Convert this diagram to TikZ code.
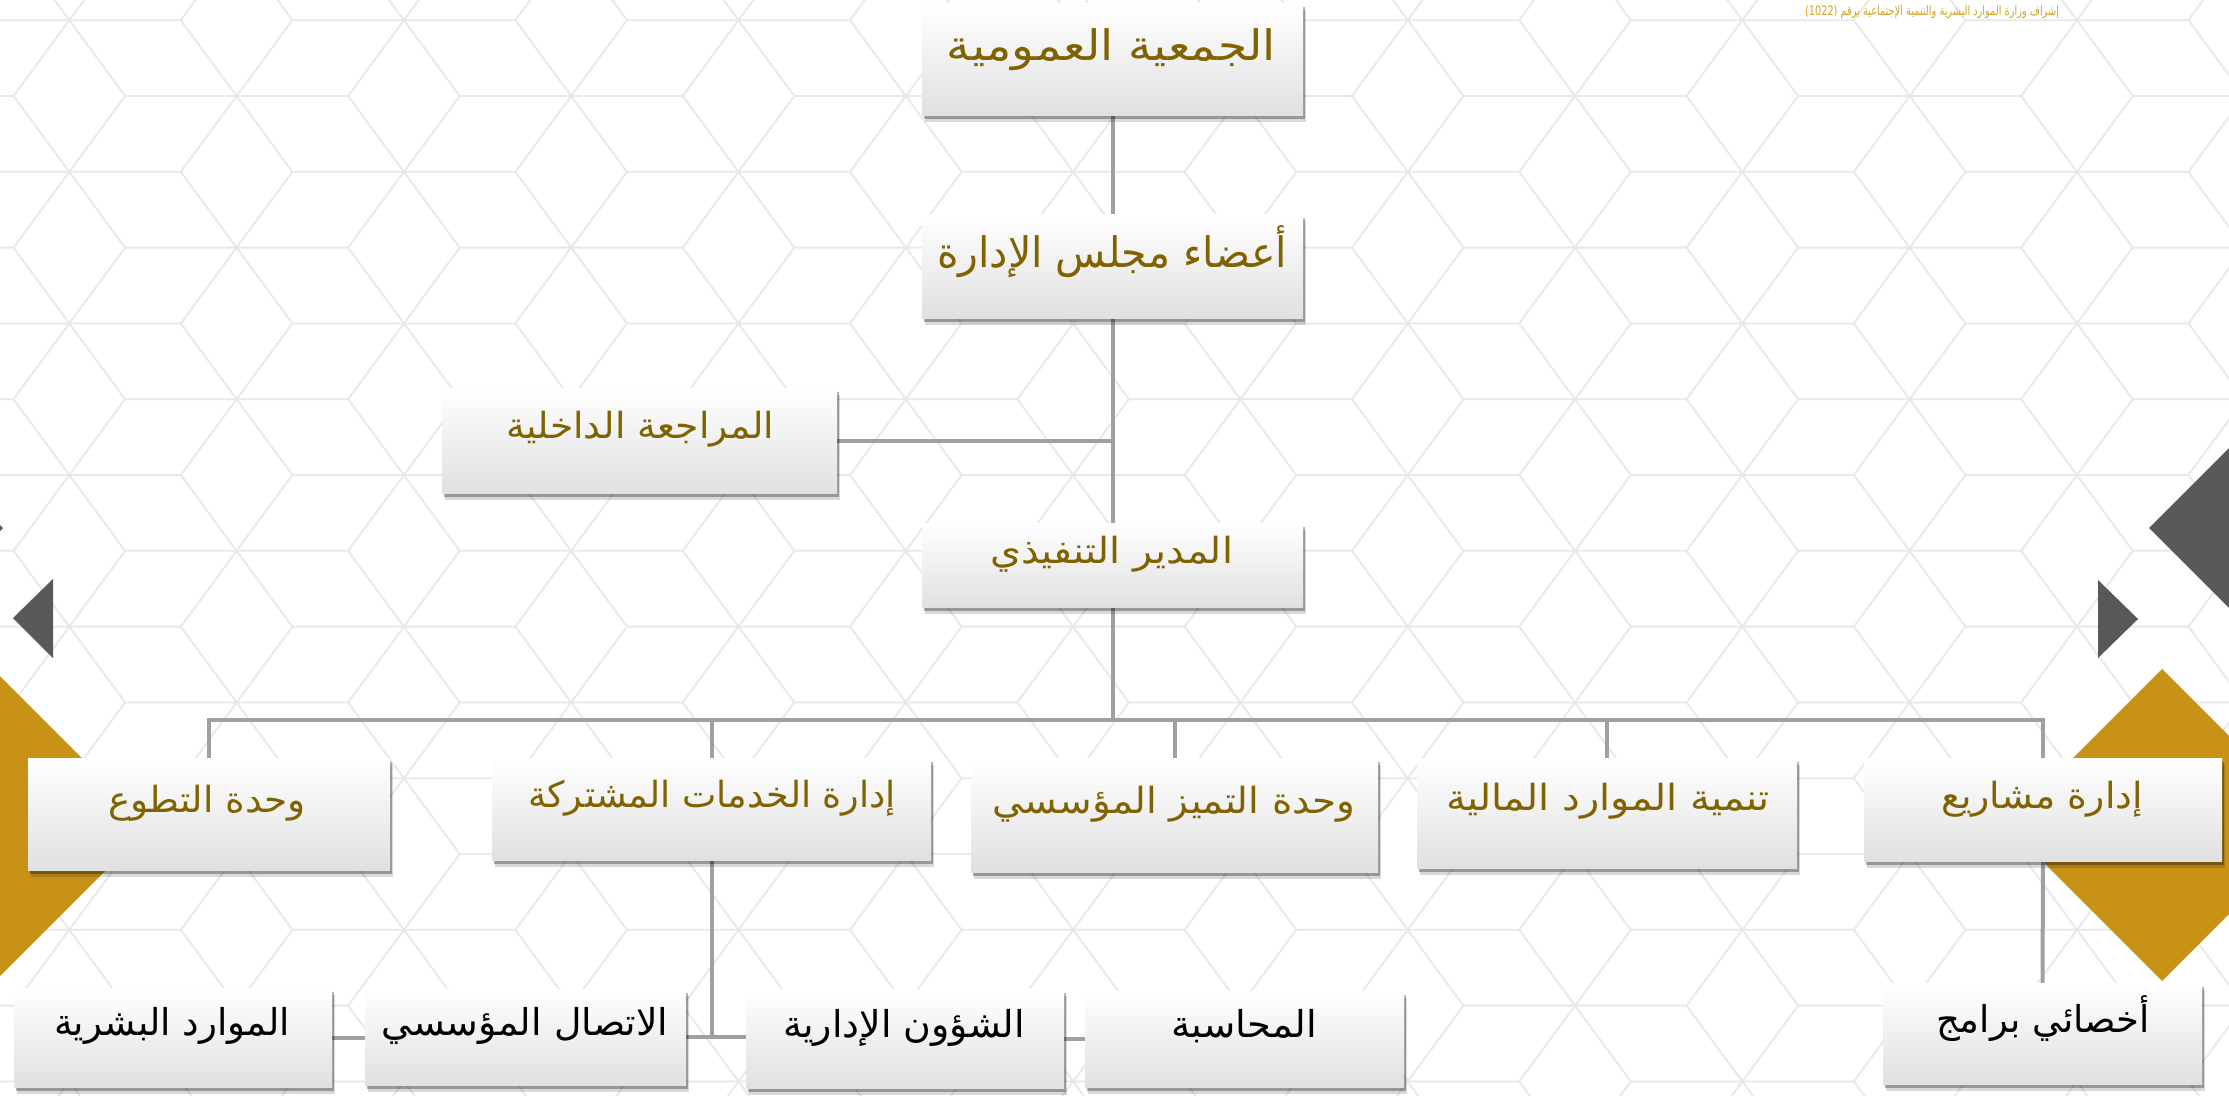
\documentclass[tikz,border=0pt]{standalone}
\usepackage{fontspec}
\usepackage{graphicx}
\newfontfamily\arabicfont[Script=Arabic]{DejaVu Sans}
\TeXXeTstate=1
\usetikzlibrary{shadows,calc}
\pgfdeclarelayer{bglayer}
\pgfdeclarelayer{midlayer}
\pgfsetlayers{bglayer,midlayer,main}
\definecolor{goldtext}{RGB}{128,98,0}
\definecolor{goldfill}{RGB}{200,146,22}
\definecolor{darkgrey}{RGB}{88,88,88}
\definecolor{connc}{RGB}{160,160,160}
\definecolor{hexc}{RGB}{232,232,232}
\definecolor{notec}{RGB}{212,160,34}
\tikzset{
  obox/.style={inner sep=0pt, outer sep=0pt, top color=white, middle color=white, bottom color=black!12,
    drop shadow={shadow xshift=3pt, shadow yshift=-7pt, opacity=0.15, fill=black},
    drop shadow={shadow xshift=2pt, shadow yshift=-4pt, opacity=0.3, fill=black}},
  conn/.style={draw=connc, line width=4pt},
  hexline/.style={draw=hexc, line width=1.8pt},
  ttop/.style={inner sep=0pt, text=goldtext, font=\fontsize{42}{48}\selectfont},
  tmid/.style={inner sep=0pt, text=goldtext, font=\fontsize{36}{42}\selectfont},
  tlow/.style={inner sep=0pt, text=black, font=\fontsize{37}{42}\selectfont},
  tnote/.style={inner sep=0pt, text=notec, font=\fontsize{13}{15}\selectfont}
}
\newcommand\orgbox[5]{%
  \node[obox, minimum width={(#4)-(#2)}, minimum height={(#5)-(#3)}] (#1) at ({((#2)+(#4))/2},{-((#3)+(#5))/2}) {};}
\newcommand\orgtext[6]{%
  \node[#4, anchor=base] (#1) at (#2,-#3) {\resizebox{#5pt}{\height}{\arabicfont #6}};}
\begin{document}
\begin{tikzpicture}[x=1pt,y=1pt]
\useasboundingbox (0,0) rectangle (2229,-1095);
\clip (0,0) rectangle (2229,-1095);
\begin{pgfonlayer}{bglayer}
\fill[white] (0,0) rectangle (2229,-1095);
\foreach \k in {-2,...,16} {
  \pgfmathsetmacro\xs{mod(1575+167.3*\k,334.6)-334.6}
  \pgfmathsetmacro\ys{-(96+75.8*\k)}
  \foreach \m in {0,...,8} {
    \draw[hexline] ({\xs+334.6*\m},\ys) ++(-111.5,0) -- ++(223,0)
      ({\xs+334.6*\m},\ys) ++(-55.8,-75.8) -- ++(111.6,151.6)
      ({\xs+334.6*\m},\ys) ++(-55.8,75.8) -- ++(111.6,-151.6);
  }
}
% gold diamonds
\fill[goldfill] (-154,-826) -- (-2,-674) -- (150,-826) -- (-2,-978) -- cycle;
\fill[goldfill] (2006,-825) -- (2162,-669) -- (2318,-825) -- (2162,-981) -- cycle;
% dark triangles
\fill[darkgrey] (2149,-528) -- (2249,-428) -- (2249,-628) -- cycle;
\fill[darkgrey] (2098,-580) -- (2138,-619) -- (2098,-658) -- cycle;
\fill[darkgrey] (53,-579) -- (13,-618) -- (53,-658) -- cycle;
\fill[darkgrey] (3,-528) -- (-97,-428) -- (-97,-628) -- cycle;
\end{pgfonlayer}

% boxes
\orgbox{b1}{922}{3}{1303}{115}
\orgbox{b2}{922}{214}{1303}{318}
\orgbox{b3}{442}{388}{837}{493}
\orgbox{b4}{922}{523}{1303}{607}
\orgbox{r1}{28}{758}{390}{870}
\orgbox{r2}{492}{758}{931}{860}
\orgbox{r3}{971}{758}{1378}{872}
\orgbox{r4}{1417}{758}{1797}{868}
\orgbox{r5}{1864}{758}{2222}{861}
\orgbox{l1}{14}{988}{332}{1087}
\orgbox{l2}{365}{989}{686}{1085}
\orgbox{l3}{746}{989}{1064}{1088}
\orgbox{l4}{1085}{991}{1404}{1087}
\orgbox{l5}{1883}{983}{2202}{1084}

% texts
\orgtext{b1t}{1111.5}{60}{ttop}{329}{\beginR الجمعية العمومية\endR}
\orgtext{b2t}{1112}{267}{ttop}{350}{\beginR أعضاء مجلس الإدارة\endR}
\orgtext{b3t}{640}{438}{tmid}{268}{\beginR المراجعة الداخلية\endR}
\orgtext{b4t}{1111.5}{563}{tmid}{243}{\beginR المدير التنفيذي\endR}
\orgtext{r1t}{207}{812}{tmid}{198}{\beginR وحدة التطوع\endR}
\orgtext{r2t}{712}{807}{tmid}{368}{\beginR إدارة الخدمات المشتركة\endR}
\orgtext{r3t}{1174}{813}{tmid}{363}{\beginR وحدة التميز المؤسسي\endR}
\orgtext{r4t}{1608}{810}{tmid}{324}{\beginR تنمية الموارد المالية\endR}
\orgtext{r5t}{2042}{808}{tmid}{202}{\beginR إدارة مشاريع\endR}
\orgtext{l1t}{172}{1035}{tlow}{236}{\beginR الموارد البشرية\endR}
\orgtext{l2t}{525}{1035}{tlow}{287}{\beginR الاتصال المؤسسي\endR}
\orgtext{l3t}{904}{1037}{tlow}{242}{\beginR الشؤون الإدارية\endR}
\orgtext{l4t}{1244}{1037}{tlow}{146}{\beginR المحاسبة\endR}
\orgtext{l5t}{2043}{1032}{tlow}{214}{\beginR أخصائي برامج\endR}
\node[tnote, anchor=base] (note) at (1932,-15) {\resizebox{254pt}{\height}{\arabicfont\beginR إشراف وزارة الموارد البشرية والتنمية الإجتماعية برقم \beginL(1022)\endL\endR}};

% connectors
\begin{pgfonlayer}{midlayer}
\coordinate (bus) at (1112.5,-720);
\draw[conn] (b1.south) -- (b2.north);
\draw[conn] (b2.south) -- (b4.north);
\draw[conn] (b3.east) -- (b3.east -| b2.south);
\draw[conn] (b4.south) -- (bus);
\draw[conn] (r1.north) -- (r1.north |- bus) -- (r5.north |- bus) -- (r5.north);
\draw[conn] (r2.north) -- (r2.north |- bus);
\draw[conn] (r3.north) -- (r3.north |- bus);
\draw[conn] (r4.north) -- (r4.north |- bus);
\draw[conn] (r2.south) -- (r2.south |- l2.east);
\draw[conn] (l1.east) -- (l1.east -| l2.west);
\draw[conn] (l2.east) -- (l2.east -| l3.west);
\draw[conn] (l3.east) -- (l3.east -| l4.west);
\draw[conn] (r5.south) -- (l5.north);
\end{pgfonlayer}
\end{tikzpicture}
\end{document}
